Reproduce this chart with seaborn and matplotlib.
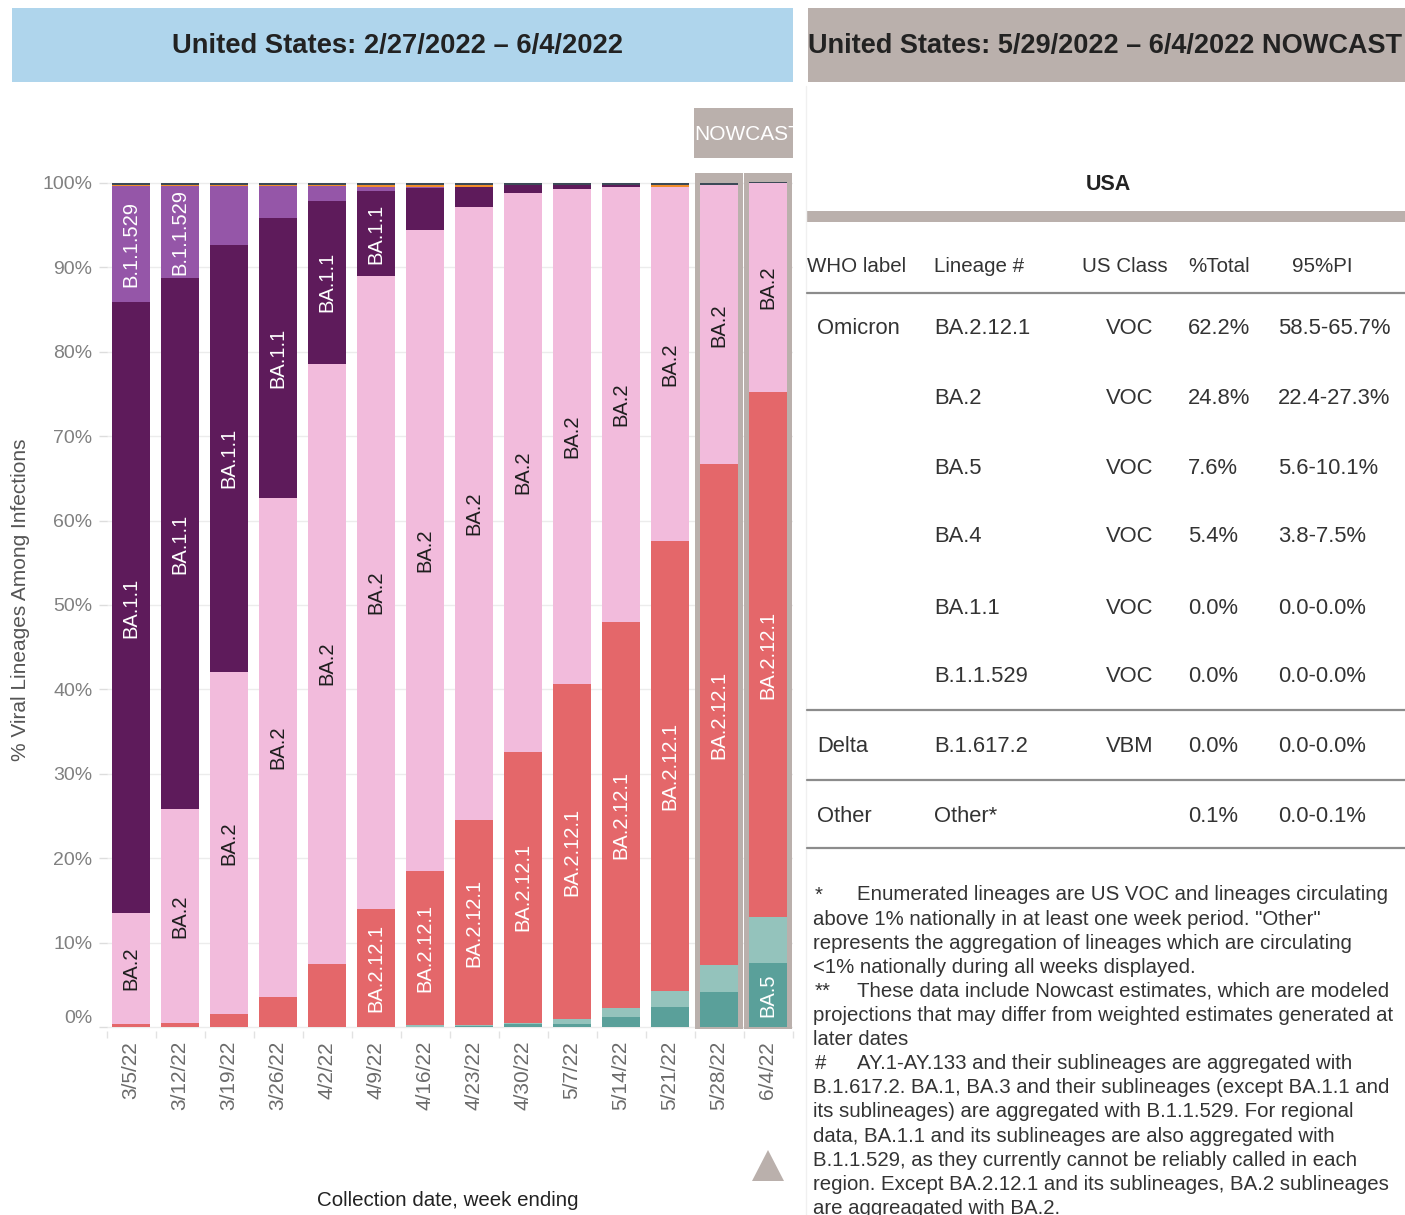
import numpy as np
import pandas as pd
import matplotlib
matplotlib.use("Agg")
import matplotlib.pyplot as plt
from matplotlib.patches import Rectangle, Polygon
import seaborn as sns

# ---------------- data ----------------
weeks = ["3/5/22", "3/12/22", "3/19/22", "3/26/22", "4/2/22", "4/9/22", "4/16/22",
         "4/23/22", "4/30/22", "5/7/22", "5/14/22", "5/21/22", "5/28/22", "6/4/22"]
nowcast_weeks = ["5/28/22", "6/4/22"]

ba5 = [0.0, 0.0, 0.0, 0.0, 0.0, 0.0, 0.05, 0.1, 0.3, 0.4, 1.2, 2.4, 4.1, 7.6]
ba4 = [0.0, 0.0, 0.0, 0.0, 0.0, 0.0, 0.15, 0.1, 0.2, 0.5, 1.0, 1.9, 3.2, 5.4]
ba2121 = [0.3, 0.5, 1.5, 3.6, 7.5, 14.0, 18.3, 24.3, 32.1, 39.7, 45.8, 53.3, 59.4, 62.2]
ba2 = [13.2, 25.3, 40.6, 59.1, 71.1, 75.0, 75.9, 72.7, 66.2, 58.7, 51.5, 41.9, 33.0, 24.8]
ba11 = [72.4, 62.9, 50.6, 33.2, 19.3, 10.0, 5.0, 2.3, 0.9, 0.4, 0.2, 0.0, 0.0, 0.0]
b11529 = [13.7, 10.9, 6.9, 3.7, 1.7, 0.5, 0.1, 0.0, 0.0, 0.0, 0.0, 0.0, 0.0, 0.0]
delta = [0.1, 0.1, 0.1, 0.1, 0.1, 0.2, 0.2, 0.2, 0.0, 0.0, 0.0, 0.2, 0.0, 0.0]
other = [0.3, 0.3, 0.3, 0.3, 0.3, 0.3, 0.3, 0.3, 0.3, 0.3, 0.3, 0.3, 0.3, 0.1]

lineage_names = ["BA.5", "BA.4", "BA.2.12.1", "BA.2", "BA.1.1", "B.1.1.529", "B.1.617.2", "Other"]
layers = [ba5, ba4, ba2121, ba2, ba11, b11529, delta, other]
colors = ["#5AA09A", "#94C3BC", "#E4676A", "#F2BBDC", "#5E1B5B", "#9556A8", "#F28E2B", "#3C4A57"]
labeled = ["BA.5", "BA.2.12.1", "BA.2", "BA.1.1", "B.1.1.529"]
dark_text_layers = ["BA.2"]

yticks = [0, 10, 20, 30, 40, 50, 60, 70, 80, 90, 100]
ytick_labels = [f"{v}%" for v in yticks]

table_headers = ["WHO label", "Lineage #", "US Class", "%Total", "95%PI"]
table_who = ["Omicron", "", "", "", "", "", "Delta", "Other"]
table_lineage = ["BA.2.12.1", "BA.2", "BA.5", "BA.4", "BA.1.1", "B.1.1.529", "B.1.617.2", "Other*"]
table_class = ["VOC", "VOC", "VOC", "VOC", "VOC", "VOC", "VBM", ""]
table_total = ["62.2%", "24.8%", "7.6%", "5.4%", "0.0%", "0.0%", "0.0%", "0.1%"]
table_pi = ["58.5-65.7%", "22.4-27.3%", "5.6-10.1%", "3.8-7.5%", "0.0-0.0%",
            "0.0-0.0%", "0.0-0.0%", "0.0-0.1%"]

footnotes = [
    ("*", "Enumerated lineages are US VOC and lineages circulating"),
    ("", "above 1% nationally in at least one week period. \"Other\""),
    ("", "represents the aggregation of lineages which are circulating"),
    ("", "<1% nationally during all weeks displayed."),
    ("**", "These data include Nowcast estimates, which are modeled"),
    ("", "projections that may differ from weighted estimates generated at"),
    ("", "later dates"),
    ("#", "AY.1-AY.133 and their sublineages are aggregated with"),
    ("", "B.1.617.2. BA.1, BA.3 and their sublineages (except BA.1.1 and"),
    ("", "its sublineages) are aggregated with B.1.1.529. For regional"),
    ("", "data, BA.1.1 and its sublineages are also aggregated with"),
    ("", "B.1.1.529, as they currently cannot be reliably called in each"),
    ("", "region. Except BA.2.12.1 and its sublineages, BA.2 sublineages"),
    ("", "are aggreagated with BA.2."),
]

# ---------------- figure ----------------
sns.set_theme(style="white")
plt.rcParams['font.family'] = ['Liberation Sans', 'DejaVu Sans']

W, H = 1405, 1215
fig = plt.figure(figsize=(W / 100, H / 100), dpi=100)
fig.patch.set_facecolor("white")

# pixel-space overlay for panels / table
bg = fig.add_axes([0, 0, 1, 1], zorder=0)
bg.set_xlim(0, W)
bg.set_ylim(H, 0)
bg.axis("off")

# main chart axes
ax_left, ax_right = 106.5, 792.5
ax_top, ax_bot = 170.3, 1031.2
ax = fig.add_axes([ax_left / W, 1 - ax_bot / H, (ax_right - ax_left) / W, (ax_bot - ax_top) / H], zorder=1)
ax.patch.set_alpha(0)

n = len(weeks)
# nowcast frames
for w in nowcast_weeks:
    i = weeks.index(w)
    ax.add_patch(Rectangle((i - 0.485, -0.2), 0.97, 101.4, facecolor="#BAB0AC", lw=0, zorder=0.8))

arr = np.array(layers)
cum = np.cumsum(arr, axis=0)
base = cum - arr
for k in range(len(layers) - 1, -1, -1):
    df = pd.DataFrame({"week": weeks, "value": cum[k]})
    sns.barplot(data=df, x="week", y="value", order=weeks, color=colors[k], saturation=1,
                width=0.78, errorbar=None, linewidth=0, ax=ax, zorder=1)

ax.set_xlim(-0.5, n - 0.5)
ax.set_ylim(-0.5, 101.5)
for s in ax.spines.values():
    s.set_visible(False)
ax.set_axisbelow(True)
ax.yaxis.grid(True, color="#ececec", lw=1)
ax.xaxis.grid(False)

ax.set_yticks(yticks)
ax.set_yticklabels(ytick_labels, fontsize=14, color="#808080")
ax.tick_params(axis="y", left=True, length=6, width=1, color="#dddddd", pad=4)
ax.get_yticklabels()[0].set_va("bottom")

ax.set_xticks(range(n))
ax.set_xticklabels(weeks, rotation=90, fontsize=15, color="#6b6b6b")
ax.tick_params(axis="x", which="major", length=0, pad=7)
ax.set_xticks(np.arange(-0.5, n, 1), minor=True)
ax.tick_params(axis="x", which="minor", bottom=True, length=5, width=1, color="#e2e2e2")

ax.set_xlabel("")
ax.set_ylabel("% Viral Lineages Among Infections", fontsize=15, color="#555555")
ax.yaxis.set_label_coords(-0.1115, 0.501)

# segment labels
fig.canvas.draw()
renderer = fig.canvas.get_renderer()
for k, name in enumerate(lineage_names):
    if name not in labeled:
        continue
    tc = "#1e1e1e" if name in dark_text_layers else "white"
    for i in range(n):
        lo, hi = base[k][i], cum[k][i]
        if hi - lo <= 0:
            continue
        t = ax.text(i, (lo + hi) / 2, name, rotation=90, ha="center", va="center",
                    fontsize=14.5, color=tc, zorder=3)
        bb = t.get_window_extent(renderer)
        seg = abs(ax.transData.transform((0, hi))[1] - ax.transData.transform((0, lo))[1])
        if bb.height + 2 > seg:
            t.remove()

# ---------------- decorations ----------------
bg.plot([806, 806], [86, H], color="#f0f0f0", lw=1)
bg.add_patch(Rectangle((12, 8), 781, 74, facecolor="#AFD5EC", lw=0))
bg.text(398, 46, "United States: 2/27/2022 – 6/4/2022", ha="center", va="center",
        fontsize=19.7, fontweight="bold", color="#222222")
bg.add_patch(Rectangle((808, 8), 597, 74, facecolor="#BAB0AC", lw=0))
bg.text(808, 46, "United States: 5/29/2022 – 6/4/2022 NOWCAST", ha="left", va="center",
        fontsize=19.55, fontweight="bold", color="#222222")

nc_box = Rectangle((694, 108), 99, 50, facecolor="#BAB0AC", lw=0)
bg.add_patch(nc_box)
nt = bg.text(694, 134, "NOWCAST", ha="left", va="center", fontsize=15, color="white")
nt.set_clip_path(nc_box)

bg.add_patch(Polygon([(752, 1181), (784, 1181), (768, 1150)], closed=True, facecolor="#BAB0AC", lw=0))
bg.text(448, 1201, "Collection date, week ending", ha="center", va="center", fontsize=14.8, color="#222222")

# ---------------- table ----------------
bg.text(1108, 185, "USA", ha="center", va="center", fontsize=15.5, fontweight="bold", color="#222222")
bg.add_patch(Rectangle((807, 211), 598, 11, facecolor="#BAB0AC", lw=0))
hdr_x = [807, 934, 1082, 1188, 1292]
for x, h in zip(hdr_x, table_headers):
    bg.text(x, 267, h, ha="left", va="center", fontsize=14.8, color="#333333")
for yl in [293, 710, 780, 848]:
    bg.plot([807, W], [yl, yl], color="#8c8c8c", lw=1.6)
row_y = [329, 398, 468, 537, 608, 677, 746, 816]
col_x = [817, 934, 1106, 1188, 1278]
for r, y in enumerate(row_y):
    vals = [table_who[r], table_lineage[r], table_class[r], table_total[r], table_pi[r]]
    for x, v in zip(col_x, vals):
        if v:
            bg.text(x, y, v, ha="left", va="center", fontsize=15.8, color="#333333")

# ---------------- footnotes ----------------
fy0, fdy = 895, 24.1
for j, (mark, line) in enumerate(footnotes):
    y = fy0 + j * fdy
    if mark:
        bg.text(815, y, mark, ha="left", va="center", fontsize=14.7, color="#333333")
        bg.text(857, y, line, ha="left", va="center", fontsize=14.7, color="#333333")
    else:
        bg.text(813, y, line, ha="left", va="center", fontsize=14.7, color="#333333")

fig.savefig("out.png", dpi=100)
